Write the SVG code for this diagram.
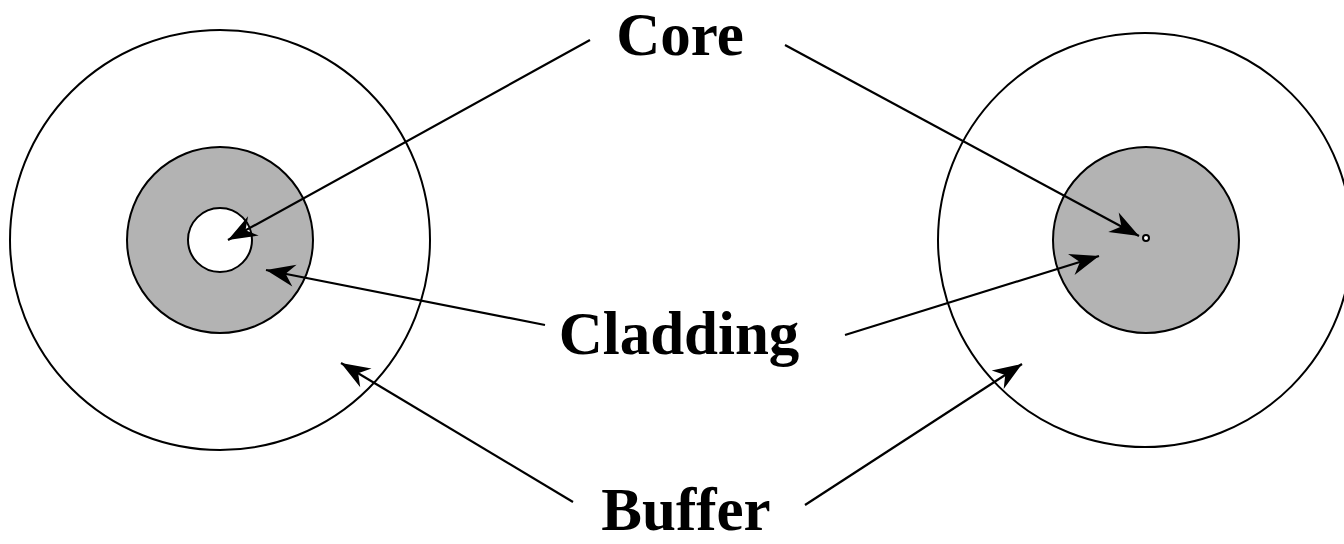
<svg xmlns="http://www.w3.org/2000/svg" width="1344" height="544" viewBox="0 0 1344 544">
<style>
.ring{fill:#fff;stroke:#000;stroke-width:2}
.clad{fill:#b3b3b3;stroke:#000;stroke-width:2}
.core{fill:#fff;stroke:#000;stroke-width:2}
.lbl{font-family:"Liberation Serif","Times New Roman",serif;font-weight:bold;font-size:61px;fill:#000;text-anchor:middle}
.arr{stroke:#000;stroke-width:2.2;fill:none;marker-end:url(#ah)}
</style>
<defs>
<marker id="ah" markerUnits="userSpaceOnUse" viewBox="-30 -12 32 24" refX="0" refY="0" markerWidth="32" markerHeight="24" orient="auto">
<path d="M0,0 L-29,-11 L-20,0 L-29,11 Z" fill="#000"/>
</marker>
</defs>
<g id="fiber-left">
<circle class="ring" cx="220" cy="240" r="210"/>
<circle class="clad" cx="220" cy="240" r="93"/>
<circle class="core" cx="220" cy="240" r="32"/>
</g>
<g id="fiber-right">
<circle class="ring" cx="1145" cy="240" r="207"/>
<circle class="clad" cx="1146" cy="240" r="93"/>
<circle class="core" cx="1146" cy="238" r="3" stroke-width="1.5"/>
</g>
<g id="label-core"><text class="lbl" x="680" y="55">Core</text></g>
<g id="label-cladding"><text class="lbl" x="679" y="354">Cladding</text></g>
<g id="label-buffer"><text class="lbl" x="686" y="530">Buffer</text></g>
<g id="connectors">
<line class="arr" x1="590" y1="40" x2="228" y2="240"/>
<line class="arr" x1="785" y1="45" x2="1139" y2="236"/>
<line class="arr" x1="545" y1="325" x2="266" y2="270"/>
<line class="arr" x1="845" y1="335" x2="1099" y2="256"/>
<line class="arr" x1="573" y1="502" x2="341" y2="363"/>
<line class="arr" x1="805" y1="505" x2="1022" y2="364"/>
</g>
</svg>
